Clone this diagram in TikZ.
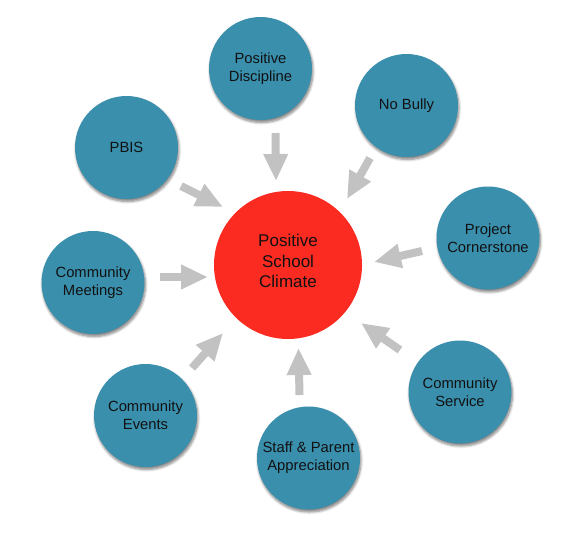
\documentclass[tikz,border=0pt]{standalone}
\usepackage{fontspec}
\setmainfont{Liberation Sans}
\usetikzlibrary{arrows.meta,shadows.blur}
\definecolor{teal1}{HTML}{3A8FAD}
\definecolor{red1}{HTML}{FC2B22}
\definecolor{gray1}{HTML}{C2C2C2}
\definecolor{txt}{HTML}{111111}
\tikzset{
  bubble/.style={circle, fill=teal1, minimum size=103pt, inner sep=0pt, align=center,
    text=txt, font=\fontsize{14.8}{18}\selectfont,
    blur shadow={shadow xshift=1pt, shadow yshift=-2.5pt, shadow blur radius=2.5pt, shadow blur steps=6, shadow opacity=50}},
  hub/.style={circle, fill=red1, minimum size=148pt, inner sep=0pt, align=center,
    text=txt, font=\fontsize{17}{20.7}\selectfont, text depth=8pt},
  blk/.style={draw=gray1, line width=8pt, -{Triangle[width=23pt,length=27pt,fill=gray1]}}
}
\begin{document}
\begin{tikzpicture}[x=1pt,y=-1pt]
\useasboundingbox (0,0) rectangle (577,538);
\node[hub] (c) at (288,265) {Positive\\School\\Climate};
\node[bubble] (pd) at (260.5,68.5) {Positive\\Discipline};
\node[bubble] (nb) at (406.5,105.5) {No Bully};
\node[bubble] (pb) at (126.5,147.5) {PBIS};
\node[bubble] (pc) at (488,238) {Project\\Cornerstone};
\node[bubble] (cm) at (93,282.5) {Community\\Meetings};
\node[bubble] (cs) at (460,392) {Community\\Service};
\node[bubble] (ce) at (145.5,415.5) {Community\\Events};
\node[bubble] (sp) at (308.5,458) {Staff \& Parent\\Appreciation};
% arrow end points
\coordinate (pd-t) at (275.5,133);  \coordinate (pd-h) at (276,181);
\coordinate (nb-t) at (370,158);    \coordinate (nb-h) at (347,199);
\coordinate (pb-t) at (181,186);    \coordinate (pb-h) at (223,207);
\coordinate (pc-t) at (422,251);    \coordinate (pc-h) at (374,262);
\coordinate (cs-t) at (400,350);    \coordinate (cs-h) at (361,323);
\coordinate (sp-t) at (299.5,395);  \coordinate (sp-h) at (298.5,348);
\coordinate (ce-t) at (192,368);    \coordinate (ce-h) at (223,333);
\coordinate (cm-t) at (160,277);    \coordinate (cm-h) at (208,277);
\draw[blk] (pd-t) -- (pd-h);
\draw[blk] (nb-t) -- (nb-h);
\draw[blk] (pb-t) -- (pb-h);
\draw[blk] (pc-t) -- (pc-h);
\draw[blk] (cs-t) -- (cs-h);
\draw[blk] (sp-t) -- (sp-h);
\draw[blk] (ce-t) -- (ce-h);
\draw[blk] (cm-t) -- (cm-h);
\end{tikzpicture}
\end{document}
